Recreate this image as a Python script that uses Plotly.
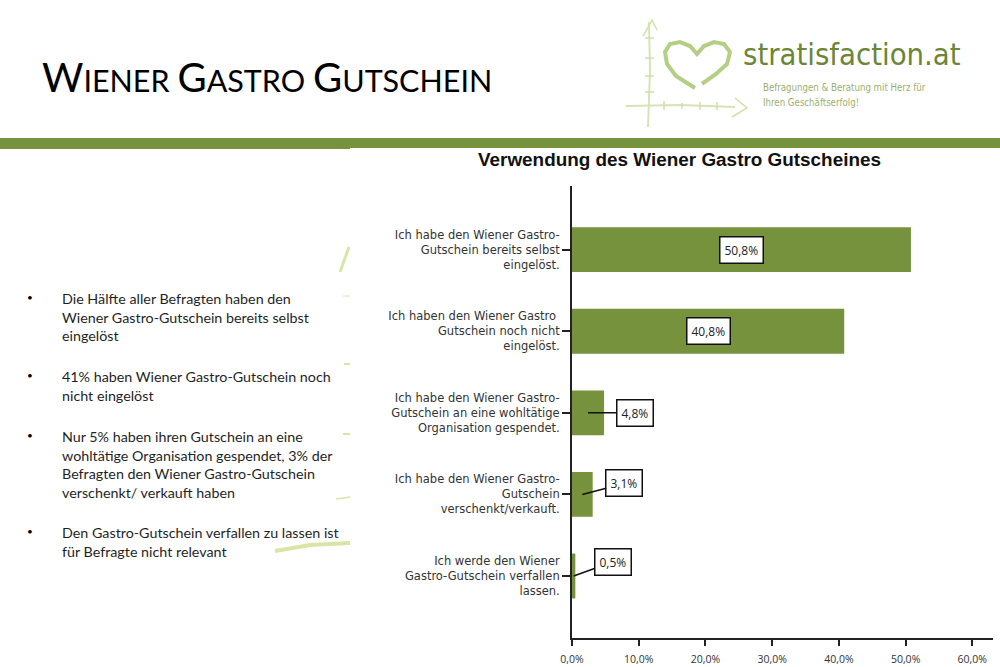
import plotly.graph_objects as go

answers = [
    "Ich habe den Wiener Gastro-<br>Gutschein bereits selbst<br>eingelöst.",
    "Ich haben den Wiener Gastro <br>Gutschein noch nicht<br>eingelöst.",
    "Ich habe den Wiener Gastro-<br>Gutschein an eine wohltätige<br>Organisation gespendet.",
    "Ich habe den Wiener Gastro-<br>Gutschein<br>verschenkt/verkauft.",
    "Ich werde den Wiener<br>Gastro-Gutschein verfallen<br>lassen.",
]
percent = [50.8, 40.8, 4.8, 3.1, 0.5]
percent_labels = ["50,8%", "40,8%", "4,8%", "3,1%", "0,5%"]
x_ticks = [0, 10, 20, 30, 40, 50, 60]
x_tick_labels = ["0,0%", "10,0%", "20,0%", "30,0%", "40,0%", "50,0%", "60,0%"]

# callout offset in px, from the middle of each bar to its box
label_ax = [0, 0, 47, 42, 39]
label_ay = [0, 0, 0, -11, -14]

bullets = [
    "Die Hälfte aller Befragten haben den<br>Wiener Gastro-Gutschein bereits selbst<br>eingelöst",
    "41% haben Wiener Gastro-Gutschein noch<br>nicht eingelöst",
    "Nur 5% haben ihren Gutschein an eine<br>wohltätige Organisation gespendet, 3% der<br>Befragten den Wiener Gastro-Gutschein<br>verschenkt/ verkauft haben",
    "Den Gastro-Gutschein verfallen zu lassen ist<br>für Befragte nicht relevant",
]
bullet_tops = [288, 366, 426, 522]

W, H = 1000, 667
GREEN = "#76923c"
PALE = "#cfe0a8"
NARROW = "DejaVu Sans Condensed"


def px(x):
    return x / W


def py(y):
    return 1 - y / H


def stroke(points, color=PALE, width=1.5):
    path = "M " + " L ".join(f"{px(x):.4f},{py(y):.4f}" for x, y in points)
    return dict(type="path", path=path, xref="paper", yref="paper",
                line=dict(color=color, width=width), layer="below")


def text(x, y, s, size, color="#1a1a1a", font="Lato", xanchor="left", yanchor="middle"):
    return dict(x=px(x), y=py(y), xref="paper", yref="paper", text=s, showarrow=False,
                xanchor=xanchor, yanchor=yanchor, align=xanchor if xanchor != "center" else "center",
                font=dict(size=size, color=color, family=font))


fig = go.Figure()
fig.add_trace(go.Bar(x=percent, y=list(range(len(answers))), orientation="h",
                     width=0.55, marker=dict(color=GREEN, line=dict(width=0)),
                     hoverinfo="skip"))

shapes = [
    dict(type="rect", xref="paper", yref="paper", x0=0, x1=1, y0=py(148), y1=py(138),
         fillcolor=GREEN, line=dict(width=0), layer="below"),
    dict(type="rect", xref="paper", yref="paper", x0=0, x1=px(350), y0=py(149), y1=py(148),
         fillcolor=GREEN, line=dict(width=0), layer="below"),
    # logo axes
    stroke([(649, 22), (650, 70), (648, 127)], "#d5e4b4", 2),
    stroke([(643, 36), (652, 20), (657, 30)]),
    stroke([(626, 106), (680, 105), (735, 107)], "#d5e4b4", 2),
    stroke([(735, 98), (747, 108), (732, 117)]),
    stroke([(645, 38), (654, 38)]), stroke([(645, 58), (654, 58)]),
    stroke([(645, 76), (654, 76)]), stroke([(645, 92), (654, 92)]),
    stroke([(664, 101), (664, 110)]), stroke([(682, 103), (682, 109)]),
    stroke([(700, 102), (700, 110)]), stroke([(717, 102), (717, 110)]),
    # logo heart
    stroke([(695, 88), (676, 76), (667, 64), (665, 52), (670, 44), (680, 42), (690, 46), (697, 54),
            (704, 46), (714, 42), (724, 44), (730, 52), (727, 64), (716, 74), (702, 84)], "#b4ce84", 4),
    # pale strokes left over from the slide background
    stroke([(349, 247), (340, 272)], "#d7e6a6", 3),
    stroke([(343, 296), (350, 296)], "#e4edc8", 1.5),
    stroke([(344, 364), (350, 364)], "#d7e6a6", 2),
    stroke([(343, 434), (350, 434)], "#d7e6a6", 2),
    stroke([(336, 499), (350, 497)], "#d7e6a6", 1.5),
    stroke([(275, 551), (310, 545), (350, 543)], "#d7e6a6", 4),
]

annotations = [
    text(40, 77, "W<span style='font-size:30.5px'>IENER </span>G<span style='font-size:30.5px'>ASTRO </span>"
                 "G<span style='font-size:30.5px'>UTSCHEIN</span>", 40, "#000000"),
    text(741, 54, "stratisfaction.at", 30.7, "#6b8636", NARROW),
    text(761, 87, "Befragungen &amp; Beratung mit Herz für", 9.6, "#9cae6e", NARROW),
    text(761, 103, "Ihren Geschäftserfolg!", 9.6, "#9cae6e", NARROW),
    text(679, 159.5, "<b>Verwendung des Wiener Gastro Gutscheines</b>", 18.9, "#111111",
         "Liberation Sans", xanchor="center"),
]
for top, block in zip(bullet_tops, bullets):
    annotations.append(text(25, top + 9, "•", 10, "#000000", yanchor="middle"))
    annotations.append(text(60, top, block, 14.3, "#1f1f1f", yanchor="top"))

for i, value in enumerate(percent):
    has_line = label_ax[i] != 0 or label_ay[i] != 0
    annotations.append(dict(
        x=value / 2, y=i, xref="x", yref="y", text=percent_labels[i],
        showarrow=has_line, arrowhead=0, arrowwidth=1.5, arrowcolor="#111111",
        ax=label_ax[i], ay=label_ay[i], axref="pixel", ayref="pixel",
        bgcolor="#ffffff", bordercolor="#111111", borderwidth=1.5, borderpad=4,
        font=dict(size=12, color="#222222", family="Open Sans"),
    ))

fig.update_layout(
    width=W, height=H, margin=dict(l=0, r=0, t=0, b=0, autoexpand=False),
    paper_bgcolor="#ffffff", plot_bgcolor="#ffffff", showlegend=False,
    shapes=shapes, annotations=annotations,
    xaxis=dict(domain=[px(572), px(993)], range=[0, 63.1], tickvals=x_ticks, ticktext=x_tick_labels,
               showgrid=False, zeroline=False, showline=True, linecolor="#222222", linewidth=2,
               ticks="outside", ticklen=6, tickwidth=1.5, tickcolor="#222222", anchor="y",
               ticklabelstandoff=4,
               tickfont=dict(size=10.5, color="#333333", family="Open Sans")),
    yaxis=dict(domain=[py(638), py(186)], range=[4.76, -0.78], tickvals=list(range(len(answers))),
               ticktext=answers, showgrid=False, zeroline=False, showline=True, linecolor="#222222",
               linewidth=2, ticks="outside", ticklen=8, tickwidth=1.5, tickcolor="#222222", anchor="x",
               tickfont=dict(size=11.5, color="#333333", family="DejaVu Sans")),
)

fig.write_html("out.html", config=dict(displayModeBar=False),
               post_script="document.body.style.margin='0';")
